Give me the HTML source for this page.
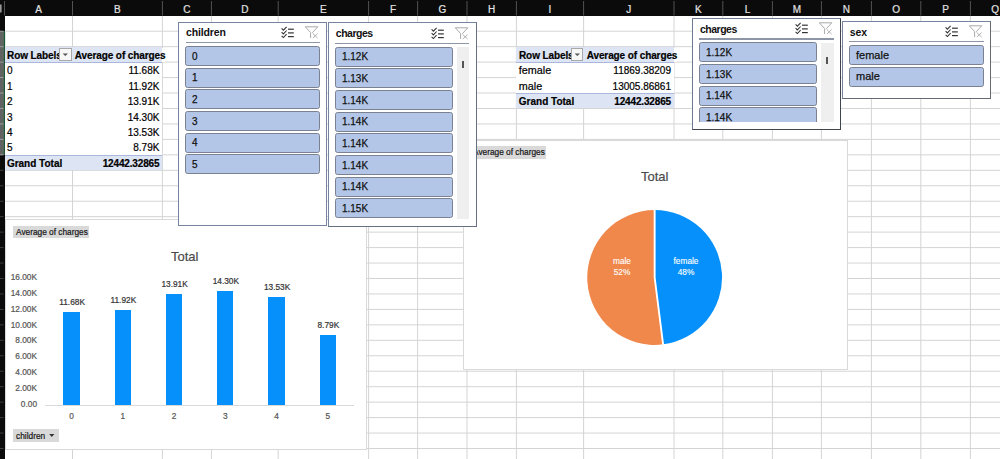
<!DOCTYPE html><html><head><meta charset="utf-8"><style>
*{margin:0;padding:0;box-sizing:border-box}
html,body{width:1000px;height:459px;overflow:hidden;background:#fff;font-family:"Liberation Sans",sans-serif;color:#000}
.a{position:absolute}
.t{position:absolute;white-space:nowrap;line-height:1;-webkit-text-stroke-width:0.2px}
.b{font-weight:bold}
.sl{position:absolute;background:#fff;border:1px solid #77849d}
.it{position:absolute;background:#b4c6e7;border:1px solid #7a8190;border-radius:2.5px}
.it span{position:absolute;left:6.3px;top:3.7px;font-size:10.5px;color:#111;line-height:1;-webkit-text-stroke:0.25px #111;transform:scaleX(0.95);transform-origin:0 0}
.it span.w{font-size:11px;top:3.5px;transform:none}
.st{position:absolute;font-size:10.5px;font-weight:bold;color:#111;line-height:1;letter-spacing:-0.15px}
.sep{position:absolute;height:1.3px;background:#8d96a6}
.btn{position:absolute;background:#d9d9d9;font-size:8.3px;color:#151515;line-height:1;white-space:nowrap;-webkit-text-stroke-width:0.2px}

</style></head><body>
<svg class="a" style="left:0;top:0" width="1000" height="459"><line x1="72.5" y1="15.5" x2="72.5" y2="459" stroke="#d4d4d4" stroke-width="1"/><line x1="162.4" y1="15.5" x2="162.4" y2="459" stroke="#d4d4d4" stroke-width="1"/><line x1="211.4" y1="15.5" x2="211.4" y2="459" stroke="#d4d4d4" stroke-width="1"/><line x1="278.2" y1="15.5" x2="278.2" y2="459" stroke="#d4d4d4" stroke-width="1"/><line x1="368.6" y1="15.5" x2="368.6" y2="459" stroke="#d4d4d4" stroke-width="1"/><line x1="417.6" y1="15.5" x2="417.6" y2="459" stroke="#d4d4d4" stroke-width="1"/><line x1="467" y1="15.5" x2="467" y2="459" stroke="#d4d4d4" stroke-width="1"/><line x1="516.4" y1="15.5" x2="516.4" y2="459" stroke="#d4d4d4" stroke-width="1"/><line x1="583.6" y1="15.5" x2="583.6" y2="459" stroke="#d4d4d4" stroke-width="1"/><line x1="674" y1="15.5" x2="674" y2="459" stroke="#d4d4d4" stroke-width="1"/><line x1="722.8" y1="15.5" x2="722.8" y2="459" stroke="#d4d4d4" stroke-width="1"/><line x1="772.4" y1="15.5" x2="772.4" y2="459" stroke="#d4d4d4" stroke-width="1"/><line x1="821.4" y1="15.5" x2="821.4" y2="459" stroke="#d4d4d4" stroke-width="1"/><line x1="871.4" y1="15.5" x2="871.4" y2="459" stroke="#d4d4d4" stroke-width="1"/><line x1="920.8" y1="15.5" x2="920.8" y2="459" stroke="#d4d4d4" stroke-width="1"/><line x1="970.4" y1="15.5" x2="970.4" y2="459" stroke="#d4d4d4" stroke-width="1"/><line x1="4.5" y1="31.2" x2="1000" y2="31.2" stroke="#d4d4d4" stroke-width="1"/><line x1="4.5" y1="46.66" x2="1000" y2="46.66" stroke="#d4d4d4" stroke-width="1"/><line x1="4.5" y1="62.11" x2="1000" y2="62.11" stroke="#d4d4d4" stroke-width="1"/><line x1="4.5" y1="77.57" x2="1000" y2="77.57" stroke="#d4d4d4" stroke-width="1"/><line x1="4.5" y1="93.03" x2="1000" y2="93.03" stroke="#d4d4d4" stroke-width="1"/><line x1="4.5" y1="108.48" x2="1000" y2="108.48" stroke="#d4d4d4" stroke-width="1"/><line x1="4.5" y1="123.94" x2="1000" y2="123.94" stroke="#d4d4d4" stroke-width="1"/><line x1="4.5" y1="139.39" x2="1000" y2="139.39" stroke="#d4d4d4" stroke-width="1"/><line x1="4.5" y1="154.85" x2="1000" y2="154.85" stroke="#d4d4d4" stroke-width="1"/><line x1="4.5" y1="170.31" x2="1000" y2="170.31" stroke="#d4d4d4" stroke-width="1"/><line x1="4.5" y1="185.76" x2="1000" y2="185.76" stroke="#d4d4d4" stroke-width="1"/><line x1="4.5" y1="201.22" x2="1000" y2="201.22" stroke="#d4d4d4" stroke-width="1"/><line x1="4.5" y1="216.67" x2="1000" y2="216.67" stroke="#d4d4d4" stroke-width="1"/><line x1="4.5" y1="232.13" x2="1000" y2="232.13" stroke="#d4d4d4" stroke-width="1"/><line x1="4.5" y1="247.59" x2="1000" y2="247.59" stroke="#d4d4d4" stroke-width="1"/><line x1="4.5" y1="263.04" x2="1000" y2="263.04" stroke="#d4d4d4" stroke-width="1"/><line x1="4.5" y1="278.5" x2="1000" y2="278.5" stroke="#d4d4d4" stroke-width="1"/><line x1="4.5" y1="293.95" x2="1000" y2="293.95" stroke="#d4d4d4" stroke-width="1"/><line x1="4.5" y1="309.41" x2="1000" y2="309.41" stroke="#d4d4d4" stroke-width="1"/><line x1="4.5" y1="324.87" x2="1000" y2="324.87" stroke="#d4d4d4" stroke-width="1"/><line x1="4.5" y1="340.32" x2="1000" y2="340.32" stroke="#d4d4d4" stroke-width="1"/><line x1="4.5" y1="355.78" x2="1000" y2="355.78" stroke="#d4d4d4" stroke-width="1"/><line x1="4.5" y1="371.23" x2="1000" y2="371.23" stroke="#d4d4d4" stroke-width="1"/><line x1="4.5" y1="386.69" x2="1000" y2="386.69" stroke="#d4d4d4" stroke-width="1"/><line x1="4.5" y1="402.15" x2="1000" y2="402.15" stroke="#d4d4d4" stroke-width="1"/><line x1="4.5" y1="417.6" x2="1000" y2="417.6" stroke="#d4d4d4" stroke-width="1"/><line x1="4.5" y1="433.06" x2="1000" y2="433.06" stroke="#d4d4d4" stroke-width="1"/><line x1="4.5" y1="448.51" x2="1000" y2="448.51" stroke="#d4d4d4" stroke-width="1"/></svg>
<div class="a" style="left:0;top:0;width:1000px;height:15.5px;background:#0b0b0b"></div>
<svg class="a" style="left:0;top:0" width="1000" height="16"><line x1="4.5" y1="1" x2="4.5" y2="15.5" stroke="#5a5a5a" stroke-width="0.9"/><line x1="72.5" y1="1" x2="72.5" y2="15.5" stroke="#5a5a5a" stroke-width="0.9"/><line x1="162.4" y1="1" x2="162.4" y2="15.5" stroke="#5a5a5a" stroke-width="0.9"/><line x1="211.4" y1="1" x2="211.4" y2="15.5" stroke="#5a5a5a" stroke-width="0.9"/><line x1="278.2" y1="1" x2="278.2" y2="15.5" stroke="#5a5a5a" stroke-width="0.9"/><line x1="368.6" y1="1" x2="368.6" y2="15.5" stroke="#5a5a5a" stroke-width="0.9"/><line x1="417.6" y1="1" x2="417.6" y2="15.5" stroke="#5a5a5a" stroke-width="0.9"/><line x1="467" y1="1" x2="467" y2="15.5" stroke="#5a5a5a" stroke-width="0.9"/><line x1="516.4" y1="1" x2="516.4" y2="15.5" stroke="#5a5a5a" stroke-width="0.9"/><line x1="583.6" y1="1" x2="583.6" y2="15.5" stroke="#5a5a5a" stroke-width="0.9"/><line x1="674" y1="1" x2="674" y2="15.5" stroke="#5a5a5a" stroke-width="0.9"/><line x1="722.8" y1="1" x2="722.8" y2="15.5" stroke="#5a5a5a" stroke-width="0.9"/><line x1="772.4" y1="1" x2="772.4" y2="15.5" stroke="#5a5a5a" stroke-width="0.9"/><line x1="821.4" y1="1" x2="821.4" y2="15.5" stroke="#5a5a5a" stroke-width="0.9"/><line x1="871.4" y1="1" x2="871.4" y2="15.5" stroke="#5a5a5a" stroke-width="0.9"/><line x1="920.8" y1="1" x2="920.8" y2="15.5" stroke="#5a5a5a" stroke-width="0.9"/><line x1="970.4" y1="1" x2="970.4" y2="15.5" stroke="#5a5a5a" stroke-width="0.9"/><rect x="0" y="4.5" width="1.6" height="8" fill="#9a9a9a"/></svg>
<div class="t" style="left:18.5px;width:40px;text-align:center;top:4.8px;font-size:10px;color:#e2e2e2">A</div>
<div class="t" style="left:97.45px;width:40px;text-align:center;top:4.8px;font-size:10px;color:#e2e2e2">B</div>
<div class="t" style="left:166.9px;width:40px;text-align:center;top:4.8px;font-size:10px;color:#e2e2e2">C</div>
<div class="t" style="left:224.8px;width:40px;text-align:center;top:4.8px;font-size:10px;color:#e2e2e2">D</div>
<div class="t" style="left:303.4px;width:40px;text-align:center;top:4.8px;font-size:10px;color:#e2e2e2">E</div>
<div class="t" style="left:373.1px;width:40px;text-align:center;top:4.8px;font-size:10px;color:#e2e2e2">F</div>
<div class="t" style="left:422.3px;width:40px;text-align:center;top:4.8px;font-size:10px;color:#e2e2e2">G</div>
<div class="t" style="left:471.7px;width:40px;text-align:center;top:4.8px;font-size:10px;color:#e2e2e2">H</div>
<div class="t" style="left:530.0px;width:40px;text-align:center;top:4.8px;font-size:10px;color:#e2e2e2">I</div>
<div class="t" style="left:608.8px;width:40px;text-align:center;top:4.8px;font-size:10px;color:#e2e2e2">J</div>
<div class="t" style="left:678.4px;width:40px;text-align:center;top:4.8px;font-size:10px;color:#e2e2e2">K</div>
<div class="t" style="left:727.5999999999999px;width:40px;text-align:center;top:4.8px;font-size:10px;color:#e2e2e2">L</div>
<div class="t" style="left:776.9px;width:40px;text-align:center;top:4.8px;font-size:10px;color:#e2e2e2">M</div>
<div class="t" style="left:826.4px;width:40px;text-align:center;top:4.8px;font-size:10px;color:#e2e2e2">N</div>
<div class="t" style="left:876.0999999999999px;width:40px;text-align:center;top:4.8px;font-size:10px;color:#e2e2e2">O</div>
<div class="t" style="left:925.5999999999999px;width:40px;text-align:center;top:4.8px;font-size:10px;color:#e2e2e2">P</div>
<div class="t" style="left:975.0999999999999px;width:40px;text-align:center;top:4.8px;font-size:10px;color:#e2e2e2">Q</div>
<div class="a" style="left:0;top:15.5px;width:4.5px;height:444px;background:#0b0b0b"></div>
<div class="a" style="left:0;top:31.2px;width:4px;height:123.65px;background:linear-gradient(90deg,#625f63 0,#5f6660 60%,#4d6657 100%)"></div>
<div class="a" style="left:4px;top:31.2px;width:1px;height:123.65px;background:#1f5438"></div>
<div class="a" style="left:5px;top:31.2px;width:1px;height:123.65px;background:#dcebe2"></div>
<svg class="a" style="left:0;top:0" width="5" height="459"><line x1="0" y1="31.2" x2="3.5" y2="31.2" stroke="#a5a5a5" stroke-width="0.9"/><line x1="0" y1="46.66" x2="3.5" y2="46.66" stroke="#a5a5a5" stroke-width="0.9"/><line x1="0" y1="62.11" x2="3.5" y2="62.11" stroke="#a5a5a5" stroke-width="0.9"/><line x1="0" y1="77.57" x2="3.5" y2="77.57" stroke="#a5a5a5" stroke-width="0.9"/><line x1="0" y1="93.03" x2="3.5" y2="93.03" stroke="#a5a5a5" stroke-width="0.9"/><line x1="0" y1="108.48" x2="3.5" y2="108.48" stroke="#a5a5a5" stroke-width="0.9"/><line x1="0" y1="123.94" x2="3.5" y2="123.94" stroke="#a5a5a5" stroke-width="0.9"/><line x1="0" y1="139.39" x2="3.5" y2="139.39" stroke="#a5a5a5" stroke-width="0.9"/><line x1="0" y1="154.85" x2="3.5" y2="154.85" stroke="#a5a5a5" stroke-width="0.9"/><line x1="0" y1="170.31" x2="3.5" y2="170.31" stroke="#444" stroke-width="0.9"/><line x1="0" y1="185.76" x2="3.5" y2="185.76" stroke="#444" stroke-width="0.9"/><line x1="0" y1="201.22" x2="3.5" y2="201.22" stroke="#444" stroke-width="0.9"/><line x1="0" y1="216.67" x2="3.5" y2="216.67" stroke="#444" stroke-width="0.9"/><line x1="0" y1="232.13" x2="3.5" y2="232.13" stroke="#444" stroke-width="0.9"/><line x1="0" y1="247.59" x2="3.5" y2="247.59" stroke="#444" stroke-width="0.9"/><line x1="0" y1="263.04" x2="3.5" y2="263.04" stroke="#444" stroke-width="0.9"/><line x1="0" y1="278.5" x2="3.5" y2="278.5" stroke="#444" stroke-width="0.9"/><line x1="0" y1="293.95" x2="3.5" y2="293.95" stroke="#444" stroke-width="0.9"/><line x1="0" y1="309.41" x2="3.5" y2="309.41" stroke="#444" stroke-width="0.9"/><line x1="0" y1="324.87" x2="3.5" y2="324.87" stroke="#444" stroke-width="0.9"/><line x1="0" y1="340.32" x2="3.5" y2="340.32" stroke="#444" stroke-width="0.9"/><line x1="0" y1="355.78" x2="3.5" y2="355.78" stroke="#444" stroke-width="0.9"/><line x1="0" y1="371.23" x2="3.5" y2="371.23" stroke="#444" stroke-width="0.9"/><line x1="0" y1="386.69" x2="3.5" y2="386.69" stroke="#444" stroke-width="0.9"/><line x1="0" y1="402.15" x2="3.5" y2="402.15" stroke="#444" stroke-width="0.9"/><line x1="0" y1="417.6" x2="3.5" y2="417.6" stroke="#444" stroke-width="0.9"/><line x1="0" y1="433.06" x2="3.5" y2="433.06" stroke="#444" stroke-width="0.9"/><line x1="0" y1="448.51" x2="3.5" y2="448.51" stroke="#444" stroke-width="0.9"/></svg>
<div class="a" style="left:4.5px;top:46.66px;width:157.9px;height:16.35px;background:#dde4f4;border-bottom:1px solid #aab8dd"></div>
<div class="t b" style="left:7.1px;top:51.26px;font-size:10px;letter-spacing:-0.1px">Row Labels</div>
<div class="a" style="left:59.0px;top:48.46px;width:12.6px;height:12.2px;background:#f7f7f7;border:1px solid #a8a8a8"></div>
<svg class="a" style="left:59.0px;top:48.46px" width="13" height="13"><path d="M3.6 5.4 L9 5.4 L6.3 8 Z" fill="#555"/></svg>
<div class="a" style="left:162.4px;top:47.66px;width:3px;height:14.45px;background:#fff"></div>
<div class="t b" style="left:74.8px;top:51.26px;font-size:10px;letter-spacing:-0.1px">Average of charges</div>
<div class="a" style="left:4.5px;top:63.01px;width:157.9px;height:107.30px;background:#fff"></div>
<div class="t" style="left:7.1px;top:66.21px;font-size:10px">0</div>
<div class="t" style="left:59.400000000000006px;width:100px;text-align:right;top:66.21px;font-size:10px;">11.68K</div>
<div class="t" style="left:7.1px;top:81.67px;font-size:10px">1</div>
<div class="t" style="left:59.400000000000006px;width:100px;text-align:right;top:81.67px;font-size:10px;">11.92K</div>
<div class="t" style="left:7.1px;top:97.13px;font-size:10px">2</div>
<div class="t" style="left:59.400000000000006px;width:100px;text-align:right;top:97.13px;font-size:10px;">13.91K</div>
<div class="t" style="left:7.1px;top:112.58px;font-size:10px">3</div>
<div class="t" style="left:59.400000000000006px;width:100px;text-align:right;top:112.58px;font-size:10px;">14.30K</div>
<div class="t" style="left:7.1px;top:128.04px;font-size:10px">4</div>
<div class="t" style="left:59.400000000000006px;width:100px;text-align:right;top:128.04px;font-size:10px;">13.53K</div>
<div class="t" style="left:7.1px;top:143.49px;font-size:10px">5</div>
<div class="t" style="left:59.400000000000006px;width:100px;text-align:right;top:143.49px;font-size:10px;">8.79K</div>
<div class="a" style="left:4.5px;top:154.85px;width:157.9px;height:15.46px;background:#dde4f4;border-top:1px solid #aab8dd"></div>
<div class="t b" style="left:6.9px;top:158.75px;font-size:10px">Grand Total</div>
<div class="t b" style="left:59.400000000000006px;width:100px;text-align:right;top:158.75px;font-size:10px;letter-spacing:-0.15px;">12442.32865</div>
<div class="a" style="left:516.4px;top:46.66px;width:157.60000000000002px;height:16.35px;background:#dde4f4;border-bottom:1px solid #aab8dd"></div>
<div class="t b" style="left:519.0px;top:51.26px;font-size:10px;letter-spacing:-0.1px">Row Labels</div>
<div class="a" style="left:570.9px;top:48.46px;width:12.6px;height:12.2px;background:#f7f7f7;border:1px solid #a8a8a8"></div>
<svg class="a" style="left:570.9px;top:48.46px" width="13" height="13"><path d="M3.6 5.4 L9 5.4 L6.3 8 Z" fill="#555"/></svg>
<div class="a" style="left:674px;top:47.66px;width:3px;height:14.45px;background:#fff"></div>
<div class="t b" style="left:586.6999999999999px;top:51.26px;font-size:10px;letter-spacing:-0.1px">Average of charges</div>
<div class="a" style="left:516.4px;top:63.01px;width:157.60000000000002px;height:45.47px;background:#fff"></div>
<div class="t" style="left:518.8px;top:65.31px;font-size:10.8px">female</div>
<div class="t" style="left:571px;width:100px;text-align:right;top:66.21px;font-size:10px;">11869.38209</div>
<div class="t" style="left:518.8px;top:80.77px;font-size:10.8px">male</div>
<div class="t" style="left:571px;width:100px;text-align:right;top:81.67px;font-size:10px;">13005.86861</div>
<div class="a" style="left:516.4px;top:93.03px;width:157.60000000000002px;height:15.45px;background:#dde4f4;border-top:1px solid #aab8dd"></div>
<div class="t b" style="left:518.8px;top:96.93px;font-size:10px">Grand Total</div>
<div class="t b" style="left:571px;width:100px;text-align:right;top:96.93px;font-size:10px;letter-spacing:-0.15px;">12442.32865</div>
<div class="a" style="left:5px;top:219.0px;width:362px;height:231.0px;background:#fff;border:1px solid #d9d9d9"></div>
<div class="btn" style="left:13px;top:225.5px;width:76px;height:12px;padding:2px 0 0 3px">Average of charges</div>
<div class="t" style="left:171px;top:249.8px;font-size:13px;color:#4a4a4a">Total</div>
<div class="t" style="left:0;width:37px;text-align:right;top:272.92px;font-size:8.3px;color:#555">16.00K</div>
<div class="t" style="left:0;width:37px;text-align:right;top:288.78px;font-size:8.3px;color:#555">14.00K</div>
<div class="t" style="left:0;width:37px;text-align:right;top:304.64px;font-size:8.3px;color:#555">12.00K</div>
<div class="t" style="left:0;width:37px;text-align:right;top:320.50px;font-size:8.3px;color:#555">10.00K</div>
<div class="t" style="left:0;width:37px;text-align:right;top:336.36px;font-size:8.3px;color:#555">8.00K</div>
<div class="t" style="left:0;width:37px;text-align:right;top:352.22px;font-size:8.3px;color:#555">6.00K</div>
<div class="t" style="left:0;width:37px;text-align:right;top:368.08px;font-size:8.3px;color:#555">4.00K</div>
<div class="t" style="left:0;width:37px;text-align:right;top:383.94px;font-size:8.3px;color:#555">2.00K</div>
<div class="t" style="left:0;width:37px;text-align:right;top:399.80px;font-size:8.3px;color:#555">0.00</div>
<div class="a" style="left:45.3px;top:404.6px;width:309px;height:1px;background:#d9d9d9"></div>
<div class="a" style="left:63.3px;top:311.76px;width:16.4px;height:93.24000000000001px;background:#0590fc"></div>
<div class="t" style="left:47.1px;width:50px;text-align:center;top:297.56px;font-size:8.3px;color:#333">11.68K</div>
<div class="t" style="left:61.5px;width:20px;text-align:center;top:412.4px;font-size:8.3px;color:#555">0</div>
<div class="a" style="left:114.55px;top:309.84px;width:16.4px;height:95.16000000000003px;background:#0590fc"></div>
<div class="t" style="left:98.35px;width:50px;text-align:center;top:295.64px;font-size:8.3px;color:#333">11.92K</div>
<div class="t" style="left:112.75px;width:20px;text-align:center;top:412.4px;font-size:8.3px;color:#555">1</div>
<div class="a" style="left:165.8px;top:293.91999999999996px;width:16.4px;height:111.08000000000004px;background:#0590fc"></div>
<div class="t" style="left:149.6px;width:50px;text-align:center;top:279.71999999999997px;font-size:8.3px;color:#333">13.91K</div>
<div class="t" style="left:164.0px;width:20px;text-align:center;top:412.4px;font-size:8.3px;color:#555">2</div>
<div class="a" style="left:217.05px;top:290.79999999999995px;width:16.4px;height:114.20000000000005px;background:#0590fc"></div>
<div class="t" style="left:200.85px;width:50px;text-align:center;top:276.59999999999997px;font-size:8.3px;color:#333">14.30K</div>
<div class="t" style="left:215.25px;width:20px;text-align:center;top:412.4px;font-size:8.3px;color:#555">3</div>
<div class="a" style="left:268.3px;top:296.96px;width:16.4px;height:108.04000000000002px;background:#0590fc"></div>
<div class="t" style="left:252.1px;width:50px;text-align:center;top:282.76px;font-size:8.3px;color:#333">13.53K</div>
<div class="t" style="left:266.5px;width:20px;text-align:center;top:412.4px;font-size:8.3px;color:#555">4</div>
<div class="a" style="left:319.55px;top:334.88px;width:16.4px;height:70.12px;background:#0590fc"></div>
<div class="t" style="left:303.35px;width:50px;text-align:center;top:320.68px;font-size:8.3px;color:#333">8.79K</div>
<div class="t" style="left:317.75px;width:20px;text-align:center;top:412.4px;font-size:8.3px;color:#555">5</div>
<div class="btn" style="left:13.1px;top:429.3px;width:45.8px;height:12.5px;padding:2.4px 0 0 3px">children</div>
<svg class="a" style="left:48px;top:433px" width="8" height="6"><path d="M1.2 1 L6.4 1 L3.8 4 Z" fill="#333"/></svg>
<div class="a" style="left:463px;top:140px;width:385.20000000000005px;height:230.2px;background:#fff;border:1px solid #d9d9d9"></div>
<div class="btn" style="left:470px;top:146.1px;width:76px;height:12.8px;padding:2.4px 0 0 3px">Average of charges</div>
<div class="t" style="left:641px;top:170.3px;font-size:13px;color:#4a4a4a">Total</div>
<svg class="a" style="left:0;top:0" width="1000" height="459"><path d="M654.65 277.5 L654.65 210.1 A67.4 67.4 0 0 1 663.10 344.37 Z" fill="#0590fc"/><path d="M654.65 277.5 L663.10 344.37 A67.4 67.4 0 1 1 654.65 210.1 Z" fill="#f0874b"/><path d="M654.65 209.1 L654.65 277.5 L663.22 345.36" stroke="#fff" stroke-width="1.9" fill="none"/></svg>
<div class="t" style="left:596px;width:52px;text-align:center;top:257.4px;font-size:8.3px;color:#fff;-webkit-text-stroke:0.12px #fff">male</div>
<div class="t" style="left:596px;width:52px;text-align:center;top:268px;font-size:8.3px;color:#fff;-webkit-text-stroke:0.12px #fff">52%</div>
<div class="t" style="left:660px;width:52px;text-align:center;top:257.4px;font-size:8.3px;color:#fff;-webkit-text-stroke:0.12px #fff">female</div>
<div class="t" style="left:660px;width:52px;text-align:center;top:268px;font-size:8.3px;color:#fff;-webkit-text-stroke:0.12px #fff">48%</div>
<div class="sl" style="left:178px;top:22px;width:149px;height:204px;border-color:#7684a0 #7684a0 #7684a0 #7684a0"></div>
<div class="st" style="left:186.1px;top:27.30px;letter-spacing:-0.15px">children</div>
<div class="sep" style="left:185.5px;top:41.95px;width:134.3px"></div>
<div class="a" style="left:179px;top:23px;width:147px;height:202px;overflow:hidden">
<div class="it" style="left:6.00px;top:22.90px;width:135.30px;height:20px"><span>0</span></div>
<div class="it" style="left:6.00px;top:44.60px;width:135.30px;height:20px"><span>1</span></div>
<div class="it" style="left:6.00px;top:66.30px;width:135.30px;height:20px"><span>2</span></div>
<div class="it" style="left:6.00px;top:88.00px;width:135.30px;height:20px"><span>3</span></div>
<div class="it" style="left:6.00px;top:109.70px;width:135.30px;height:20px"><span>4</span></div>
<div class="it" style="left:6.00px;top:131.40px;width:135.30px;height:20px"><span>5</span></div>
</div>
<svg class="a" style="left:281.09999999999997px;top:26.0px" width="40" height="14" fill="none"><path d="M0.6 2.4 L2.4 4.2 L5.6 0.7999999999999998" stroke="#333" stroke-width="1.05"/><line x1="7" y1="3.2" x2="12.8" y2="3.2" stroke="#333" stroke-width="1.2"/><path d="M0.6 6.1000000000000005 L2.4 7.9 L5.6 4.5" stroke="#333" stroke-width="1.05"/><line x1="7" y1="6.9" x2="12.8" y2="6.9" stroke="#333" stroke-width="1.2"/><path d="M0.6 9.8 L2.4 11.6 L5.6 8.2" stroke="#333" stroke-width="1.05"/><line x1="7" y1="10.6" x2="12.8" y2="10.6" stroke="#333" stroke-width="1.2"/><path d="M24.3 0.8 L36.8 0.8 L31.5 6.5 L31.5 7.2 M24.3 0.8 L29.6 6.5 L29.6 12" stroke="#a8a8a8" stroke-width="1"/><path d="M31.9 7.6 L36.6 12 M36.6 7.6 L31.9 12" stroke="#a8a8a8" stroke-width="0.9"/></svg>
<div class="sl" style="left:328px;top:22px;width:149px;height:205px;border-color:#7684a0 #667080 #667080 #7684a0"></div>
<div class="st" style="left:335.8px;top:27.90px;letter-spacing:-0.5px">charges</div>
<div class="sep" style="left:335.2px;top:42.55px;width:134.2px"></div>
<div class="a" style="left:329px;top:23px;width:147px;height:203px;overflow:hidden">
<div class="it" style="left:5.70px;top:23.50px;width:118.40px;height:20px"><span>1.12K</span></div>
<div class="it" style="left:5.70px;top:45.20px;width:118.40px;height:20px"><span>1.13K</span></div>
<div class="it" style="left:5.70px;top:66.90px;width:118.40px;height:20px"><span>1.14K</span></div>
<div class="it" style="left:5.70px;top:88.60px;width:118.40px;height:20px"><span>1.14K</span></div>
<div class="it" style="left:5.70px;top:110.30px;width:118.40px;height:20px"><span>1.14K</span></div>
<div class="it" style="left:5.70px;top:132.00px;width:118.40px;height:20px"><span>1.14K</span></div>
<div class="it" style="left:5.70px;top:153.70px;width:118.40px;height:20px"><span>1.14K</span></div>
<div class="it" style="left:5.70px;top:175.40px;width:118.40px;height:20px"><span>1.15K</span></div>
</div>
<div class="a" style="left:457px;top:47.4px;width:12.399999999999977px;height:172.0px;background:#efefef"></div>
<div class="a" style="left:461.7px;top:60.9px;width:2.5px;height:6.8px;background:#555"></div>
<svg class="a" style="left:431.09999999999997px;top:26.6px" width="40" height="14" fill="none"><path d="M0.6 2.4 L2.4 4.2 L5.6 0.7999999999999998" stroke="#333" stroke-width="1.05"/><line x1="7" y1="3.2" x2="12.8" y2="3.2" stroke="#333" stroke-width="1.2"/><path d="M0.6 6.1000000000000005 L2.4 7.9 L5.6 4.5" stroke="#333" stroke-width="1.05"/><line x1="7" y1="6.9" x2="12.8" y2="6.9" stroke="#333" stroke-width="1.2"/><path d="M0.6 9.8 L2.4 11.6 L5.6 8.2" stroke="#333" stroke-width="1.05"/><line x1="7" y1="10.6" x2="12.8" y2="10.6" stroke="#333" stroke-width="1.2"/><path d="M24.3 0.8 L36.8 0.8 L31.5 6.5 L31.5 7.2 M24.3 0.8 L29.6 6.5 L29.6 12" stroke="#a8a8a8" stroke-width="1"/><path d="M31.9 7.6 L36.6 12 M36.6 7.6 L31.9 12" stroke="#a8a8a8" stroke-width="0.9"/></svg>
<div class="sl" style="left:692px;top:18px;width:149px;height:112px;border-color:#6f7b93 #41464e #41464e #6f7b93"></div>
<div class="st" style="left:700.0px;top:23.70px;letter-spacing:-0.5px">charges</div>
<div class="sep" style="left:699.4px;top:38.35px;width:134.60000000000002px"></div>
<div class="a" style="left:693px;top:19px;width:147px;height:103.3px;overflow:hidden">
<div class="it" style="left:5.90px;top:23.30px;width:117.80px;height:20px"><span>1.12K</span></div>
<div class="it" style="left:5.90px;top:45.00px;width:117.80px;height:20px"><span>1.13K</span></div>
<div class="it" style="left:5.90px;top:66.70px;width:117.80px;height:20px"><span>1.14K</span></div>
<div class="it" style="left:5.90px;top:88.40px;width:117.80px;height:20px"><span>1.14K</span></div>
<div class="it" style="left:5.90px;top:110.10px;width:117.80px;height:20px"><span>1.14K</span></div>
</div>
<div class="a" style="left:820.9px;top:43.2px;width:13.100000000000023px;height:79.1px;background:#efefef"></div>
<div class="a" style="left:825.7px;top:56.9px;width:2.5px;height:6.8px;background:#555"></div>
<svg class="a" style="left:795.0px;top:22.400000000000002px" width="40" height="14" fill="none"><path d="M0.6 2.4 L2.4 4.2 L5.6 0.7999999999999998" stroke="#333" stroke-width="1.05"/><line x1="7" y1="3.2" x2="12.8" y2="3.2" stroke="#333" stroke-width="1.2"/><path d="M0.6 6.1000000000000005 L2.4 7.9 L5.6 4.5" stroke="#333" stroke-width="1.05"/><line x1="7" y1="6.9" x2="12.8" y2="6.9" stroke="#333" stroke-width="1.2"/><path d="M0.6 9.8 L2.4 11.6 L5.6 8.2" stroke="#333" stroke-width="1.05"/><line x1="7" y1="10.6" x2="12.8" y2="10.6" stroke="#333" stroke-width="1.2"/><path d="M24.3 0.8 L36.8 0.8 L31.5 6.5 L31.5 7.2 M24.3 0.8 L29.6 6.5 L29.6 12" stroke="#a8a8a8" stroke-width="1"/><path d="M31.9 7.6 L36.6 12 M36.6 7.6 L31.9 12" stroke="#a8a8a8" stroke-width="0.9"/></svg>
<div class="sl" style="left:842px;top:21px;width:149px;height:78px;border-color:#7684a0 #656b75 #656b75 #7684a0"></div>
<div class="st" style="left:849.8000000000001px;top:26.50px;letter-spacing:-0.15px">sex</div>
<div class="sep" style="left:849.2px;top:41.15px;width:134.39999999999998px"></div>
<div class="a" style="left:843px;top:22px;width:147px;height:76px;overflow:hidden">
<div class="it" style="left:5.70px;top:23.10px;width:135.40px;height:20px"><span class="w">female</span></div>
<div class="it" style="left:5.70px;top:44.80px;width:135.40px;height:20px"><span class="w">male</span></div>
</div>
<svg class="a" style="left:945.3000000000001px;top:25.2px" width="40" height="14" fill="none"><path d="M0.6 2.4 L2.4 4.2 L5.6 0.7999999999999998" stroke="#333" stroke-width="1.05"/><line x1="7" y1="3.2" x2="12.8" y2="3.2" stroke="#333" stroke-width="1.2"/><path d="M0.6 6.1000000000000005 L2.4 7.9 L5.6 4.5" stroke="#333" stroke-width="1.05"/><line x1="7" y1="6.9" x2="12.8" y2="6.9" stroke="#333" stroke-width="1.2"/><path d="M0.6 9.8 L2.4 11.6 L5.6 8.2" stroke="#333" stroke-width="1.05"/><line x1="7" y1="10.6" x2="12.8" y2="10.6" stroke="#333" stroke-width="1.2"/><path d="M24.3 0.8 L36.8 0.8 L31.5 6.5 L31.5 7.2 M24.3 0.8 L29.6 6.5 L29.6 12" stroke="#a8a8a8" stroke-width="1"/><path d="M31.9 7.6 L36.6 12 M36.6 7.6 L31.9 12" stroke="#a8a8a8" stroke-width="0.9"/></svg>
</body></html>
